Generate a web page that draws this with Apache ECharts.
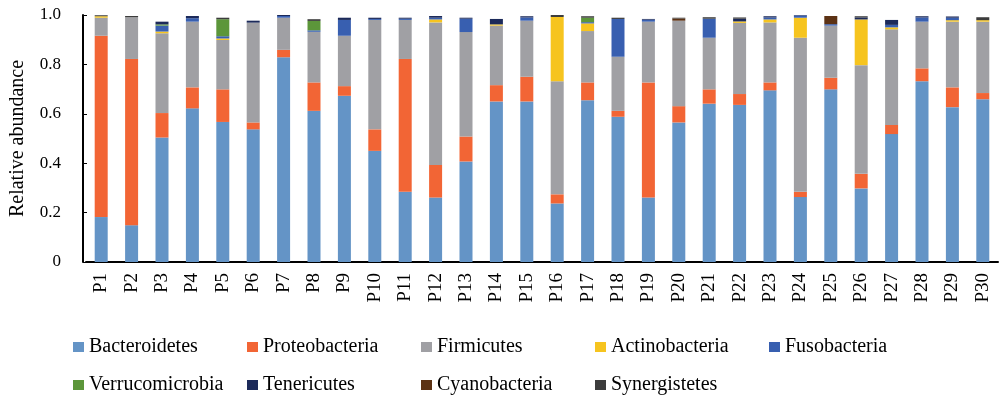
<!DOCTYPE html>
<html>
<head>
<meta charset="utf-8">
<script src="https://cdn.jsdelivr.net/npm/echarts@6/dist/echarts.min.js"></script>
<style>
  html, body { margin: 0; padding: 0; background: #ffffff; }
  #chart { width: 1005px; height: 396px; }
</style>
</head>
<body>
<div id="chart"></div>
<script>
// Sample names
const samples = ['P1','P2','P3','P4','P5','P6','P7','P8','P9','P10',
  'P11','P12','P13','P14','P15','P16','P17','P18','P19','P20',
  'P21','P22','P23','P24','P25','P26','P27','P28','P29','P30'];

// Relative abundance of each phylum per sample
const bacteroidetes = [0.182,0.149,0.504,0.622,0.567,0.537,0.829,0.612,0.673,0.450,
  0.284,0.261,0.407,0.650,0.650,0.237,0.655,0.588,0.261,0.565,
  0.641,0.636,0.695,0.263,0.699,0.298,0.518,0.732,0.627,0.659];
const proteobacteria = [0.734,0.673,0.099,0.085,0.132,0.028,0.030,0.115,0.039,0.087,
  0.538,0.132,0.101,0.066,0.100,0.037,0.072,0.024,0.466,0.066,
  0.058,0.044,0.032,0.021,0.047,0.059,0.037,0.052,0.080,0.025];
const firmicutes = [0.073,0.169,0.323,0.266,0.200,0.404,0.130,0.205,0.204,0.443,
  0.158,0.577,0.423,0.241,0.227,0.458,0.208,0.219,0.246,0.346,
  0.209,0.288,0.243,0.624,0.211,0.440,0.387,0.189,0.266,0.289];
const actinobacteria = [0.006,0,0.007,0,0.006,0,0,0,0,0,
  0,0.012,0,0.005,0,0.260,0.031,0,0,0,
  0,0.006,0.012,0.081,0,0.185,0.008,0,0.006,0.006];
const fusobacteria = [0,0,0.024,0.014,0.009,0,0.007,0.006,0.064,0.004,
  0.005,0.007,0.054,0,0.013,0,0.005,0.153,0.008,0,
  0.077,0,0.008,0.009,0.006,0,0.010,0.017,0.010,0];
const verrucomicrobia = [0,0,0.005,0,0.069,0,0,0.038,0,0,
  0,0,0,0,0,0,0.018,0,0,0,
  0,0,0,0,0,0,0,0,0,0];
const tenericutes = [0,0,0.011,0.009,0,0.008,0.004,0,0.009,0.005,
  0.004,0.007,0.004,0.022,0.005,0,0,0,0.003,0,
  0,0.011,0.005,0.004,0,0.008,0.020,0.005,0.005,0];
const cyanobacteria = [0,0,0,0,0,0,0,0,0,0,
  0,0,0,0,0,0,0,0,0,0.009,
  0,0,0,0,0.033,0,0,0,0,0];
const synergistetes = [0.004,0.005,0,0,0.006,0,0,0.007,0,0,
  0,0,0,0,0,0.008,0.006,0.005,0,0.003,
  0.006,0.005,0,0,0,0.005,0,0,0,0.012];

// Y axis ticks
const yTicks = [0, 0.2, 0.4, 0.6, 0.8, 1.0];

const phyla = [
  { name: 'Bacteroidetes',   data: bacteroidetes,   color: '#6494c6' },
  { name: 'Proteobacteria',  data: proteobacteria,  color: '#f26535' },
  { name: 'Firmicutes',      data: firmicutes,      color: '#a0a0a4' },
  { name: 'Actinobacteria',  data: actinobacteria,  color: '#f6c41f' },
  { name: 'Fusobacteria',    data: fusobacteria,    color: '#385fb0' },
  { name: 'Verrucomicrobia', data: verrucomicrobia, color: '#5c963a' },
  { name: 'Tenericutes',     data: tenericutes,     color: '#1c2a5a' },
  { name: 'Cyanobacteria',   data: cyanobacteria,   color: '#5c3214' },
  { name: 'Synergistetes',   data: synergistetes,   color: '#3c3c3c' }
];

const FONT = 'Liberation Serif';

const chart = echarts.init(document.getElementById('chart'), null, { renderer: 'canvas' });

chart.setOption({
  animation: false,
  backgroundColor: '#ffffff',
  textStyle: { fontFamily: FONT, color: '#000' },
  grid: { left: 80, right: 7, top: 15, bottom: 134, containLabel: false },
  legend: {
    data: phyla.map(p => p.name),
    left: 73,
    top: 333,
    width: 900,
    padding: 0,
    itemWidth: 11,
    itemHeight: 10,
    itemGap: 10,
    icon: 'rect',
    textStyle: {
      fontFamily: FONT,
      fontSize: 20,
      color: '#000',
      width: 148,
      lineHeight: 28,
      overflow: 'truncate'
    }
  },
  xAxis: {
    type: 'category',
    data: samples,
    boundaryGap: true,
    axisLine: { show: true, lineStyle: { color: '#000', width: 2 } },
    axisTick: { show: false },
    axisLabel: {
      rotate: 90,
      margin: 11,
      fontFamily: FONT,
      fontSize: 19,
      color: '#000',
      interval: 0
    }
  },
  yAxis: {
    type: 'value',
    min: yTicks[0],
    max: yTicks[yTicks.length - 1],
    interval: 0.2,
    offset: 3,
    name: 'Relative abundance',
    nameLocation: 'middle',
    nameGap: 55,
    nameRotate: 90,
    nameTextStyle: { fontFamily: FONT, fontSize: 20, color: '#000' },
    axisLine: { show: true, lineStyle: { color: '#000', width: 2 } },
    axisTick: { show: true, inside: true, length: 4, lineStyle: { color: '#000', width: 1 } },
    splitLine: { show: false },
    axisLabel: {
      margin: 22,
      fontFamily: FONT,
      fontSize: 17,
      color: '#000',
      formatter: v => (v === 0 ? '0' : v.toFixed(1))
    }
  },
  series: phyla.map(p => ({
    name: p.name,
    type: 'bar',
    stack: 'total',
    barWidth: 13,
    data: p.data,
    itemStyle: { color: p.color },
    emphasis: { disabled: true }
  }))
});
</script>
</body>
</html>
